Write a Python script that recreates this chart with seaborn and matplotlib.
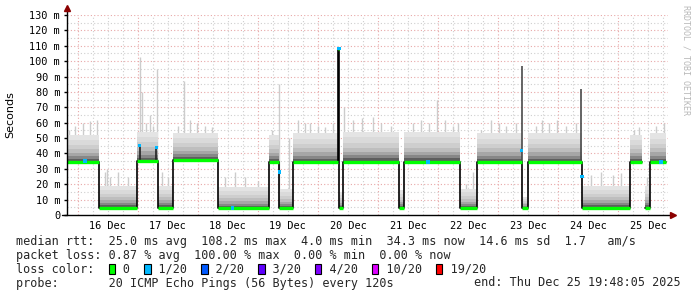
import numpy as np
import pandas as pd
import matplotlib
matplotlib.use("Agg")
import matplotlib.pyplot as plt
import matplotlib.dates as mdates
from matplotlib.patches import Rectangle
import seaborn as sns

# ---------------- data ----------------
seg_start = ["2025-12-15 19:48", "2025-12-16 08:36", "2025-12-16 23:48", "2025-12-17 08:12",
             "2025-12-17 14:12", "2025-12-18 08:12", "2025-12-19 04:36", "2025-12-19 08:36",
             "2025-12-19 14:12", "2025-12-20 08:12", "2025-12-20 08:36", "2025-12-20 10:12",
             "2025-12-21 08:12", "2025-12-21 10:12", "2025-12-22 08:48", "2025-12-22 15:24",
             "2025-12-23 09:36", "2025-12-23 11:42", "2025-12-24 09:18", "2025-12-25 04:42",
             "2025-12-25 10:36", "2025-12-25 12:42"]
seg_end = ["2025-12-16 08:36", "2025-12-16 23:48", "2025-12-17 08:12", "2025-12-17 14:12",
           "2025-12-18 08:12", "2025-12-19 04:36", "2025-12-19 08:36", "2025-12-19 14:12",
           "2025-12-20 08:12", "2025-12-20 08:36", "2025-12-20 10:12", "2025-12-21 08:12",
           "2025-12-21 10:12", "2025-12-22 08:48", "2025-12-22 15:24", "2025-12-23 09:36",
           "2025-12-23 11:42", "2025-12-24 09:18", "2025-12-25 04:42", "2025-12-25 09:18",
           "2025-12-25 12:42", "2025-12-25 19:00"]
seg_median = [34.5, 4.5, 35.0, 4.5, 35.5, 4.5, 34.5, 4.5, 34.5, 108.2, 4.5, 34.5,
              4.5, 34.5, 4.5, 34.5, 4.5, 34.5, 4.5, 34.5, 4.5, 34.5]
seg_smoke_body = [52, 19, 54, 19, 53, 18, 52, 17, 53, 108.2, 15, 54,
                  16, 54, 17, 53, 12, 53, 19, 52, 19, 53]
seg_run = [0] * 20 + [1] * 2   # a gap in the data before the 25 Dec 10:36 sample

# spikes of the smoke: hours after 2025-12-15 19:48, height in ms
spike_offset_h = [0.8, 3.2, 6.4, 9.2, 12.0,
                  15.2, 16.0, 17.2, 20.4, 24.4,
                  29.0, 30.0, 31.6, 33.2, 34.4, 36.0,
                  38.0, 40.4,
                  44.4, 46.8, 49.2, 52.0, 55.2, 58.0,
                  63.2, 67.2, 71.2, 76.4,
                  82.0, 84.8, 88.8,
                  92.4, 95.2, 97.2, 100.4, 103.2, 106.4,
                  110.8, 114.4, 118.0, 122.0, 125.2, 129.2,
                  138.0, 141.2, 144.4, 147.6, 150.8, 154.0, 156.0,
                  159.2, 162.0,
                  165.2, 169.2, 172.4, 175.2, 179.2,
                  187.2, 189.6, 192.4, 195.6, 199.2, 203.2,
                  209.2, 213.2, 218.0, 221.2,
                  226.4, 228.4, 231.6, 235.2, 238.4]
spike_height = [55, 58, 60, 61, 62,
                28, 30, 25, 28, 25,
                103, 80, 60, 65, 58, 95,
                28, 25,
                58, 87, 62, 60, 58, 57,
                25, 28, 25, 22,
                55, 85, 50,
                62, 60, 60, 58, 57, 60,
                70, 62, 63, 64, 60, 58,
                60, 62, 60, 75, 62, 58, 60,
                20, 28,
                55, 62, 60, 58, 60,
                58, 62, 60, 62, 58, 60,
                26, 28, 26, 27,
                55, 57, 25, 58, 60]
# dark (dense) bursts: hours after start, top in ms
dark_offset_h = [29.2, 35.6, 181.6, 205.4]
dark_height = [46, 44, 97, 82]

loss1_time = ["2025-12-17 00:48", "2025-12-17 07:30", "2025-12-19 08:40", "2025-12-20 08:24",
              "2025-12-23 09:20", "2025-12-24 09:30", "2025-12-16 03:00", "2025-12-21 20:00",
              "2025-12-25 17:00", "2025-12-18 14:00"]
loss1_value = [45, 44, 28, 108.2, 42, 25, 35, 34.5, 34.5, 4.5]

y_ticks = list(range(0, 140, 10))
t_start = pd.Timestamp("2025-12-15 19:48:05")
t_end = pd.Timestamp("2025-12-25 19:48:05")
t_data0 = pd.Timestamp("2025-12-15 19:48")

loss_labels = ["0", "1/20", "2/20", "3/20", "4/20", "10/20", "19/20"]
loss_colors = ["#00ff00", "#00b8ff", "#0059ff", "#5e00ff", "#7e00ff", "#dd00ff", "#ff0000"]

line_rtt = "median rtt:  25.0 ms avg  108.2 ms max  4.0 ms min  34.3 ms now  14.6 ms sd  1.7   am/s"
line_loss = "packet loss: 0.87 % avg  100.00 % max  0.00 % min  0.00 % now"
line_probe = "probe:       20 ICMP Echo Pings (56 Bytes) every 120s"
line_end = "end: Thu Dec 25 19:48:05 2025"

# ---------------- figure ----------------
sns.set_theme(style="white")
plt.rcParams["font.family"] = ["DejaVu Sans Mono", "DejaVu Sans"]

W, H = 697, 297
fig = plt.figure(figsize=(W / 100, H / 100), dpi=100)
fig.patch.set_facecolor("white")
ax = fig.add_axes([67 / W, (H - 215) / H, (668 - 67) / W, 200 / H])
ax.set_facecolor("white")

s_dt = pd.to_datetime(seg_start)
e_dt = pd.to_datetime(seg_end)


def median_at(t):
    idx = [i for i in range(len(s_dt)) if s_dt[i] <= t < e_dt[i]]
    return seg_median[idx[0]] if idx else 0


# grid
for v in np.arange(5, 131, 5):
    major = (v % 10 == 0)
    ax.axhline(v, color="#e8a8a8" if major else "#cfcfcf", lw=0.8,
               ls=(0, (1, 2)), zorder=0)
for d in pd.date_range("2025-12-15 00:00", "2025-12-26 00:00", freq="6h"):
    if t_start < d < t_end:
        major = (d.hour == 0)
        ax.axvline(d, color="#e8a8a8" if major else "#cfcfcf", lw=0.8,
                   ls=(0, (1, 2)), zorder=0)

# light spikes (behind the smoke body)
sp_t = t_data0 + pd.to_timedelta(spike_offset_h, unit="h")
for t, h in zip(sp_t, spike_height):
    ax.vlines(t, median_at(t), h, color="#cccccc", lw=1.0, zorder=1)

# smoke body (layered shades from median upwards)
fracs = [1.0, 0.82, 0.64, 0.48, 0.34, 0.22, 0.12]
shades = ["#e4e4e4", "#dadada", "#cecece", "#bebebe", "#a6a6a6", "#878787", "#5e5e5e"]
for s, e, m, top in zip(s_dt, e_dt, seg_median, seg_smoke_body):
    for f, c in zip(fracs, shades):
        ax.fill_between([s, e], m, m + f * (top - m), color=c, lw=0, zorder=1.5)

# dark bursts
dk_t = t_data0 + pd.to_timedelta(dark_offset_h, unit="h")
for t, h in zip(dk_t, dark_height):
    ax.vlines(t, median_at(t), h, color="#4a4a4a" if h > 60 else "#222222",
              lw=1.2, zorder=2.5)

# median step line (black) via seaborn
rows = []
for run in sorted(set(seg_run)):
    ids = [i for i in range(len(seg_run)) if seg_run[i] == run]
    for i in ids:
        rows.append({"t": s_dt[i], "rtt": seg_median[i], "run": run})
    rows.append({"t": e_dt[ids[-1]], "rtt": seg_median[ids[-1]], "run": run})
med_df = pd.DataFrame(rows)
sns.lineplot(data=med_df, x="t", y="rtt", units="run", estimator=None,
             color="black", lw=1.2, drawstyle="steps-post", ax=ax, zorder=3)

# loss-colour median segments
ax.hlines(seg_median, s_dt, e_dt, color=loss_colors[0], lw=2.4, zorder=4)
loss_df = pd.DataFrame({"t": pd.to_datetime(loss1_time), "v": loss1_value})
sns.scatterplot(data=loss_df, x="t", y="v", marker="s", s=6, color=loss_colors[1],
                edgecolor="none", ax=ax, zorder=5)

# axes
ax.set_xlim(t_start, t_end)
ax.set_ylim(0, 130)
ax.set_xlabel("")
ax.set_ylabel("")
for sp in ax.spines.values():
    sp.set_visible(False)
ax.plot([0, 0], [0, 1.03], transform=ax.transAxes, color="black", lw=1,
        clip_on=False, zorder=6)
ax.plot([-0.008, 1.004], [0, 0], transform=ax.transAxes, color="black", lw=1,
        clip_on=False, zorder=6)
ax.plot([0], [1.035], transform=ax.transAxes, marker="^", ms=4.5, color="#8b0000",
        clip_on=False, zorder=7)
ax.plot([1.008], [0], transform=ax.transAxes, marker=">", ms=4.5, color="#8b0000",
        clip_on=False, zorder=7)

ax.set_yticks(y_ticks)
ax.set_yticklabels(["0" if v == 0 else f"{v} m" for v in y_ticks])
ax.xaxis.set_major_locator(mdates.HourLocator(byhour=[12]))
ax.xaxis.set_major_formatter(mdates.DateFormatter("%d %b"))
ax.xaxis.set_minor_locator(mdates.HourLocator(byhour=[0]))
ax.tick_params(axis="x", which="major", length=0, pad=4, labelsize=7.4, colors="black")
ax.tick_params(axis="x", which="minor", length=3, width=1, color="black", direction="out")
ax.tick_params(axis="y", which="major", length=2, width=1, pad=3, labelsize=7.4,
               colors="black", left=True)
ax.grid(False)

fig.text(10 / W, 1 - 115 / H, "Seconds", rotation=90, ha="center", va="center",
         fontsize=8, family=["DejaVu Sans"], color="black")
fig.text(686 / W, 1 - 5 / H, "RRDTOOL / TOBI OETIKER", rotation=-90, ha="center",
         va="top", fontsize=6, color="#b8b8b8")

# legend / statistics
fs = 8.5
cw = 0.602 * fs * 100 / 72  # px per character
x0 = 16
fig.text(x0 / W, 1 - 241 / H, line_rtt, fontsize=fs, va="center", ha="left")
fig.text(x0 / W, 1 - 255 / H, line_loss, fontsize=fs, va="center", ha="left")
fig.text(x0 / W, 1 - 283 / H, line_probe, fontsize=fs, va="center", ha="left")
fig.text(681 / W, 1 - 283 / H, line_end, fontsize=fs, va="center", ha="right")

txt = "loss color:  "
box_cols = []
for lab in loss_labels:
    box_cols.append(len(txt))
    txt += "  " + lab + "  "
fig.text(x0 / W, 1 - 269 / H, txt.rstrip(), fontsize=fs, va="center", ha="left")
for col, c in zip(box_cols, loss_colors):
    bx = x0 + col * cw + 0.5
    fig.patches.append(Rectangle((bx / W, 1 - 274 / H), 6.5 / W, 10 / H,
                                 transform=fig.transFigure, facecolor=c,
                                 edgecolor="black", lw=0.8))

fig.savefig("out.png", dpi=100, facecolor="white")
